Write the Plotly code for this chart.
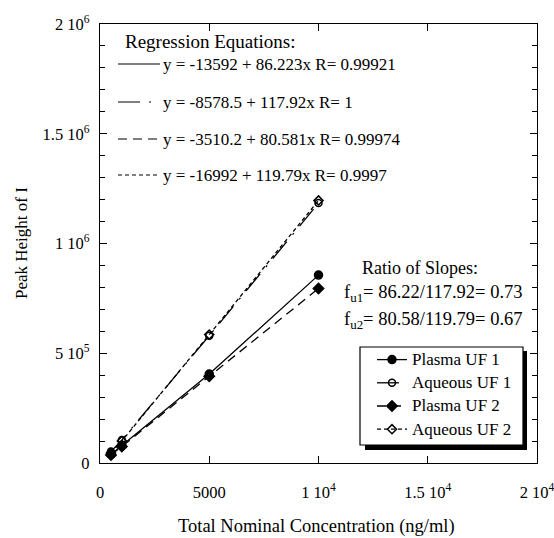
import plotly.graph_objects as go

conc = [500, 1000, 5000, 10000]
plasma_uf1 = [40000, 80000, 405000, 856000]
aqueous_uf1 = [52000, 105000, 580000, 1184000]
plasma_uf2 = [36000, 75000, 395000, 795000]
aqueous_uf2 = [45000, 100000, 585000, 1196000]

series_names = ["Plasma UF 1", "Aqueous UF 1", "Plasma UF 2", "Aqueous UF 2"]
equations = [
    "y = -13592 + 86.223x R= 0.99921",
    "y = -8578.5 + 117.92x R= 1",
    "y = -3510.2 + 80.581x R= 0.99974",
    "y = -16992 + 119.79x R= 0.9997",
]
ratio_lines = [
    "f<sub>u1</sub>= 86.22/117.92= 0.73",
    "f<sub>u2</sub>= 80.58/119.79= 0.67",
]
y_tickvals = [0, 500000, 1000000, 1500000, 2000000]
y_ticktext = ["0", "5 10<sup>5</sup>", "1 10<sup>6</sup>", "1.5 10<sup>6</sup>", "2 10<sup>6</sup>"]
x_tickvals = [0, 5000, 10000, 15000, 20000]
x_ticktext = ["0", "5000", "1 10<sup>4</sup>", "1.5 10<sup>4</sup>", "2 10<sup>4</sup>"]

FONT = "Liberation Serif"
W, H = 554, 538
L, R, T, B = 100, 17, 24, 75
PW, PH = W - L - R, H - T - B

def px(x):
    return (x - L) / PW

def py(y):
    return (H - B - y) / PH

dashes = ["solid", "22px,9px,2px,9px", "9px,6px", "4px,3px"]
symbols = ["circle", "circle-open", "diamond", "diamond-open"]
sizes = [8, 7, 8, 7]
ys = [plasma_uf1, aqueous_uf1, plasma_uf2, aqueous_uf2]

fig = go.Figure()
for i in range(4):
    fig.add_trace(go.Scatter(
        x=conc, y=ys[i],
        name="<span style='font-size:17px'>" + series_names[i] + "</span>",
        mode="lines+markers",
        line=dict(color="black", width=1.3, dash=dashes[i]),
        marker=dict(symbol=symbols[i], size=sizes[i], color="black",
                    line=dict(color="black", width=1.5)),
        legendgroup="g" + str(i),
    ))

shapes = []
# legend shadow and box
shapes.append(dict(type="rect", xref="paper", yref="paper",
                   x0=px(365), x1=px(527), y0=py(450), y1=py(351),
                   fillcolor="black", line=dict(width=0), layer="above"))
shapes.append(dict(type="rect", xref="paper", yref="paper",
                   x0=px(360), x1=px(523), y0=py(445), y1=py(347),
                   fillcolor="white", line=dict(color="black", width=1.2), layer="above"))

annotations = []
annotations.append(dict(text="Regression Equations:", xref="paper", yref="paper",
                        x=px(123), y=py(42), xanchor="left", yanchor="middle",
                        showarrow=False, font=dict(family=FONT, size=19, color="black")))
eq_y = [64, 102, 139, 175]
for i in range(4):
    shapes.append(dict(type="line", xref="paper", yref="paper",
                       x0=px(118), x1=px(160), y0=py(eq_y[i]), y1=py(eq_y[i]),
                       line=dict(color="black", width=1.2, dash=dashes[i])))
    annotations.append(dict(text=equations[i], xref="paper", yref="paper",
                            x=px(161), y=py(eq_y[i]), xanchor="left", yanchor="middle",
                            showarrow=False, font=dict(family=FONT, size=17, color="black")))

annotations.append(dict(text="Ratio of Slopes:", xref="paper", yref="paper",
                        x=px(360), y=py(268), xanchor="left", yanchor="middle",
                        showarrow=False, font=dict(family=FONT, size=18, color="black")))
for j, yy in enumerate([293, 320]):
    annotations.append(dict(text=ratio_lines[j], xref="paper", yref="paper",
                            x=px(342), y=py(yy), xanchor="left", yanchor="middle",
                            showarrow=False, font=dict(family=FONT, size=18.5, color="black")))

annotations.append(dict(text="Peak Height of I", xref="paper", yref="paper",
                        x=px(22), y=py(243), xanchor="center", yanchor="middle",
                        textangle=-90, showarrow=False,
                        font=dict(family=FONT, size=17, color="black")))
annotations.append(dict(text="Total Nominal Concentration (ng/ml)", xref="paper", yref="paper",
                        x=px(316), y=py(526), xanchor="center", yanchor="middle",
                        showarrow=False, font=dict(family=FONT, size=18.5, color="black")))

fig.update_layout(
    width=W, height=H,
    margin=dict(l=L, r=R, t=T, b=B),
    paper_bgcolor="white", plot_bgcolor="white",
    font=dict(family=FONT, size=16, color="black"),
    showlegend=True,
    legend=dict(x=px(372), y=py(344), xanchor="left", yanchor="top",
                bgcolor="rgba(0,0,0,0)", borderwidth=0,
                font=dict(family=FONT, size=14, color="black"),
                traceorder="grouped", tracegroupgap=2),
    shapes=shapes, annotations=annotations,
    xaxis=dict(range=[0, 20000], tickvals=x_tickvals, ticktext=x_ticktext,
               showgrid=False, zeroline=False, showline=True, linecolor="black",
               linewidth=1.2, mirror="allticks", ticks="inside", ticklen=7,
               tickcolor="black", ticklabelstandoff=14, ticklabeloverflow="allow",
               automargin=False, tickfont=dict(size=16.5)),
    yaxis=dict(range=[0, 2000000], tickvals=y_tickvals, ticktext=y_ticktext,
               showgrid=False, zeroline=False, showline=True, linecolor="black",
               linewidth=1.2, mirror="allticks", ticks="inside", ticklen=7,
               tickcolor="black", ticklabelstandoff=6, tickfont=dict(size=16.5),
               automargin=False,
               minor=dict(dtick=100000, ticks="inside", ticklen=5, tickcolor="black")),
)

fig.write_html("out.html")
